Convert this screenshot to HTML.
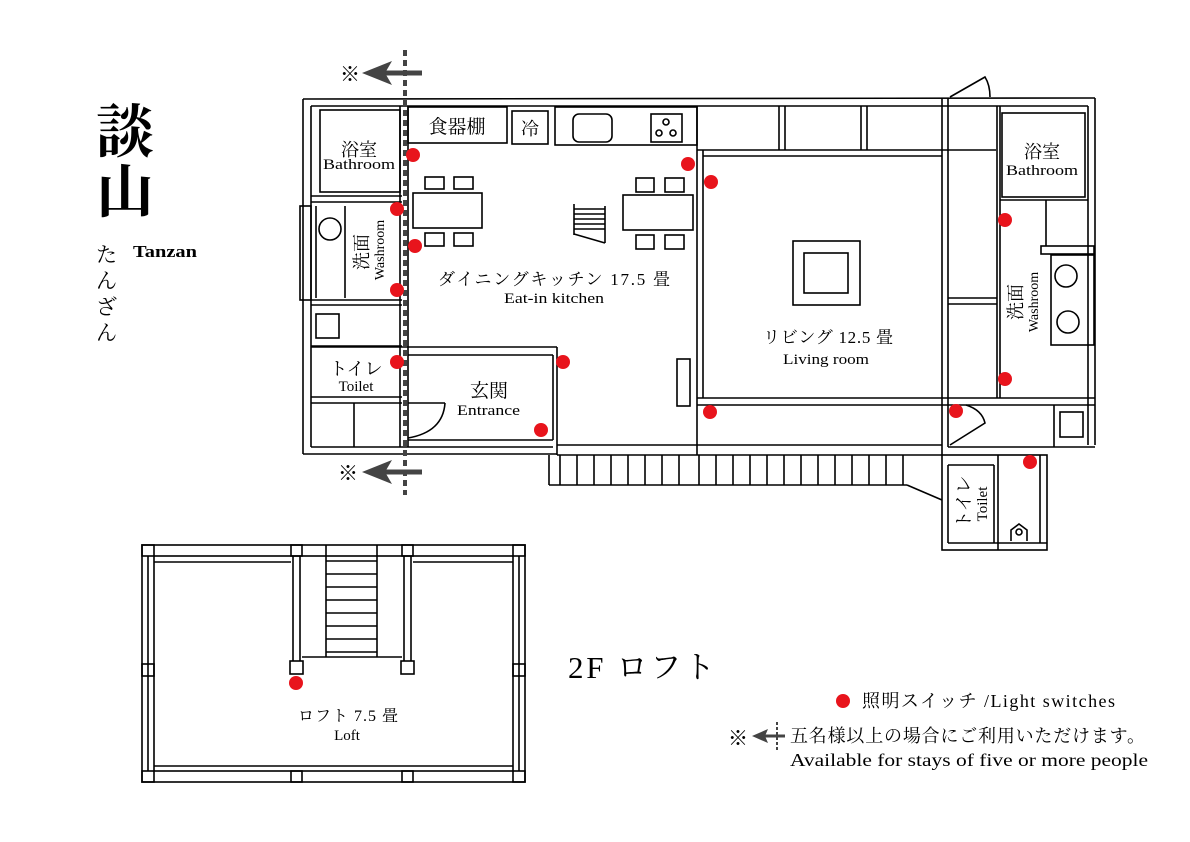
<!DOCTYPE html>
<html><head><meta charset="utf-8"><style>
html,body{margin:0;padding:0;background:#fff;}
svg{display:block}
text{font-family:"Liberation Serif","Noto Serif CJK JP",serif;fill:#000}
</style></head><body>
<svg width="1190" height="842" viewBox="0 0 1190 842" xmlns="http://www.w3.org/2000/svg">
<g fill="none" stroke="#000" stroke-width="1.6">
<line x1="303" y1="99" x2="1095" y2="98"/>
<line x1="311" y1="106" x2="1088" y2="106"/>
<line x1="303" y1="99" x2="303" y2="454"/>
<line x1="311" y1="106" x2="311" y2="447"/>
<line x1="303" y1="454" x2="557" y2="454"/>
<line x1="311" y1="447" x2="553" y2="447"/>
<line x1="1095" y1="98" x2="1095" y2="445"/>
<line x1="1088" y1="106" x2="1088" y2="445"/>
<rect x="320" y="110" width="80" height="82"/>
<line x1="311" y1="196" x2="402" y2="196"/>
<line x1="311" y1="202" x2="402" y2="202"/>
<rect x="300" y="206" width="11" height="94"/>
<line x1="316" y1="206" x2="316" y2="298"/>
<line x1="345" y1="206" x2="345" y2="298"/>
<circle cx="330" cy="229" r="11"/>
<line x1="311" y1="300" x2="402" y2="300"/>
<line x1="311" y1="305" x2="402" y2="305"/>
<rect x="316" y="314" width="23" height="24"/>
<line x1="311" y1="346" x2="402" y2="346"/>
<line x1="311" y1="397" x2="402" y2="397"/>
<line x1="311" y1="403" x2="402" y2="403"/>
<line x1="354" y1="403" x2="354" y2="447"/>
<line x1="400" y1="106" x2="400" y2="447"/>
<line x1="408" y1="106" x2="408" y2="447"/>
<rect x="408" y="107" width="99" height="36"/>
<rect x="512" y="111" width="36" height="33"/>
<rect x="555" y="107" width="142" height="38"/>
<rect x="573" y="114" width="39" height="28" rx="6"/>
<rect x="651" y="114" width="31" height="28"/>
<circle cx="666" cy="122" r="3"/><circle cx="659" cy="133" r="3"/><circle cx="673" cy="133" r="3"/>
<rect x="413" y="193" width="69" height="35"/>
<rect x="425" y="177" width="19" height="12"/><rect x="454" y="177" width="19" height="12"/>
<rect x="425" y="233" width="19" height="13"/><rect x="454" y="233" width="19" height="13"/>
<rect x="623" y="195" width="70" height="35"/>
<rect x="636" y="178" width="18" height="14"/><rect x="665" y="178" width="19" height="14"/>
<rect x="636" y="235" width="18" height="14"/><rect x="665" y="235" width="19" height="14"/>
<line x1="574" y1="204" x2="574" y2="235"/><line x1="605" y1="206" x2="605" y2="243"/>
<line x1="574" y1="209" x2="605" y2="209"/><line x1="574" y1="214" x2="605" y2="214"/><line x1="574" y1="219" x2="605" y2="219"/><line x1="574" y1="224" x2="605" y2="224"/><line x1="574" y1="229" x2="605" y2="229"/>
<line x1="574" y1="234" x2="605" y2="243"/>
<rect x="677" y="359" width="13" height="47"/>
<line x1="311" y1="347" x2="557" y2="347"/>
<line x1="408" y1="355" x2="553" y2="355"/>
<line x1="553" y1="355" x2="553" y2="440"/>
<line x1="557" y1="347" x2="557" y2="455"/>
<line x1="408" y1="440" x2="553" y2="440"/>
<path d="M408 438 Q443 432 445 403" />
<line x1="408" y1="403" x2="445" y2="403"/>
<line x1="697" y1="106" x2="697" y2="455"/>
<line x1="703" y1="150" x2="703" y2="398"/>
<line x1="557" y1="445" x2="942" y2="445"/>
<line x1="557" y1="455" x2="942" y2="455"/>
<line x1="697" y1="150" x2="996" y2="150"/>
<line x1="703" y1="156" x2="942" y2="156"/>
<line x1="779" y1="106" x2="779" y2="150"/><line x1="785" y1="106" x2="785" y2="150"/>
<line x1="861" y1="106" x2="861" y2="150"/><line x1="867" y1="106" x2="867" y2="150"/>
<line x1="942" y1="98" x2="942" y2="455"/>
<line x1="948" y1="98" x2="948" y2="447"/>
<line x1="697" y1="398" x2="1095" y2="398"/>
<line x1="697" y1="405" x2="1095" y2="405"/>
<rect x="793" y="241" width="67" height="64"/>
<rect x="804" y="253" width="44" height="40"/>
<line x1="948" y1="298" x2="997" y2="298"/><line x1="948" y1="304" x2="997" y2="304"/>
<line x1="997" y1="106" x2="997" y2="398"/>
<line x1="1000" y1="106" x2="1000" y2="398"/>
<rect x="1002" y="113" width="83" height="84"/>
<line x1="1000" y1="200" x2="1088" y2="200"/>
<line x1="1046" y1="200" x2="1046" y2="246"/>
<rect x="1041" y="246" width="53" height="8"/>
<rect x="1051" y="255" width="43" height="90"/>
<circle cx="1066" cy="276" r="11"/><circle cx="1068" cy="322" r="11"/>
<rect x="1060" y="412" width="23" height="25"/>
<line x1="1054" y1="405" x2="1054" y2="447"/>
<line x1="948" y1="447" x2="1095" y2="447"/>
<path d="M950 445 L985 423 Q982 410 966 405"/>
<path d="M950 97 L985 77 Q990 85 990 97"/>
<line x1="549" y1="455" x2="549" y2="485"/>
<line x1="549" y1="485" x2="907" y2="485"/>
<line x1="907" y1="485" x2="942" y2="500"/>
<g>
<line x1="560" y1="455" x2="560" y2="485"/><line x1="577" y1="455" x2="577" y2="485"/><line x1="594" y1="455" x2="594" y2="485"/><line x1="611" y1="455" x2="611" y2="485"/><line x1="628" y1="455" x2="628" y2="485"/><line x1="645" y1="455" x2="645" y2="485"/><line x1="662" y1="455" x2="662" y2="485"/><line x1="679" y1="455" x2="679" y2="485"/><line x1="699" y1="455" x2="699" y2="485"/><line x1="716" y1="455" x2="716" y2="485"/><line x1="733" y1="455" x2="733" y2="485"/><line x1="750" y1="455" x2="750" y2="485"/><line x1="767" y1="455" x2="767" y2="485"/><line x1="784" y1="455" x2="784" y2="485"/><line x1="801" y1="455" x2="801" y2="485"/><line x1="818" y1="455" x2="818" y2="485"/><line x1="835" y1="455" x2="835" y2="485"/><line x1="852" y1="455" x2="852" y2="485"/><line x1="869" y1="455" x2="869" y2="485"/><line x1="886" y1="455" x2="886" y2="485"/><line x1="903" y1="455" x2="903" y2="485"/>
</g>
<rect x="942" y="455" width="105" height="95"/>
<line x1="948" y1="465" x2="994" y2="465"/>
<line x1="948" y1="465" x2="948" y2="543"/>
<line x1="948" y1="543" x2="1047" y2="543"/>
<line x1="994" y1="465" x2="994" y2="543"/><line x1="998" y1="455" x2="998" y2="550"/>
<line x1="1040" y1="455" x2="1040" y2="543"/>
<path d="M1011 541 L1011 530 L1019 524 L1027 530 L1027 541"/>
<circle cx="1019" cy="532" r="3"/>
<rect x="142" y="545" width="383" height="237"/>
<rect x="154" y="556" width="359" height="215"/>
<line x1="154" y1="562" x2="291" y2="562"/>
<line x1="413" y1="562" x2="513" y2="562"/>
<line x1="154" y1="766" x2="513" y2="766"/>
<line x1="148" y1="556" x2="148" y2="771"/><line x1="519" y1="556" x2="519" y2="771"/>
<rect x="142" y="545" width="12" height="11"/><rect x="513" y="545" width="12" height="11"/>
<rect x="142" y="771" width="12" height="11"/><rect x="513" y="771" width="12" height="11"/>
<rect x="142" y="664" width="12" height="12"/><rect x="513" y="664" width="12" height="12"/>
<rect x="291" y="545" width="11" height="11"/><rect x="402" y="545" width="11" height="11"/>
<rect x="291" y="771" width="11" height="11"/><rect x="402" y="771" width="11" height="11"/>
<line x1="293" y1="556" x2="293" y2="661"/><line x1="300" y1="556" x2="300" y2="661"/>
<line x1="404" y1="556" x2="404" y2="661"/><line x1="411" y1="556" x2="411" y2="661"/>
<rect x="290" y="661" width="13" height="13"/><rect x="401" y="661" width="13" height="13"/>
<line x1="302" y1="657" x2="402" y2="657"/>
<line x1="326" y1="545" x2="326" y2="657"/><line x1="377" y1="545" x2="377" y2="657"/>
<line x1="326" y1="561" x2="377" y2="561"/><line x1="326" y1="574" x2="377" y2="574"/><line x1="326" y1="587" x2="377" y2="587"/><line x1="326" y1="600" x2="377" y2="600"/><line x1="326" y1="613" x2="377" y2="613"/><line x1="326" y1="626" x2="377" y2="626"/><line x1="326" y1="639" x2="377" y2="639"/><line x1="326" y1="652" x2="377" y2="652"/>
</g>
<line x1="405" y1="50" x2="405" y2="495" stroke="#444" stroke-width="4" stroke-dasharray="6,4"/>
<g fill="#444" stroke="#444">
<line x1="375" y1="73" x2="422" y2="73" stroke-width="5"/>
<polygon points="362,73 392,61 385,73 392,85" stroke="none"/>
<line x1="375" y1="472" x2="422" y2="472" stroke-width="5"/>
<polygon points="362,472 392,460 385,472 392,484" stroke="none"/>
<line x1="765" y1="736" x2="785" y2="736" stroke-width="3"/>
<polygon points="752,736 768,729 765,736 768,743" stroke="none"/>
<line x1="777" y1="722" x2="777" y2="750" stroke-width="2" stroke-dasharray="3,2"/>
</g>
<text x="340" y="81" font-size="20">※</text>
<text x="338" y="480" font-size="20">※</text>
<text x="728" y="745" font-size="20">※</text>
<g fill="#e8141c">
<circle cx="413" cy="155" r="7"/><circle cx="688" cy="164" r="7"/><circle cx="711" cy="182" r="7"/>
<circle cx="397" cy="209" r="7"/><circle cx="415" cy="246" r="7"/><circle cx="397" cy="290" r="7"/>
<circle cx="397" cy="362" r="7"/><circle cx="563" cy="362" r="7"/><circle cx="541" cy="430" r="7"/>
<circle cx="710" cy="412" r="7"/><circle cx="956" cy="411" r="7"/><circle cx="1005" cy="220" r="7"/>
<circle cx="1005" cy="379" r="7"/><circle cx="1030" cy="462" r="7"/><circle cx="296" cy="683" r="7"/>
<circle cx="843" cy="701" r="7"/>
</g>
<text x="359" y="156" font-size="18" text-anchor="middle">浴室</text>
<text x="323" y="169" font-size="15" textLength="72" lengthAdjust="spacingAndGlyphs">Bathroom</text>
<text transform="translate(368,252) rotate(-90)" font-size="18" text-anchor="middle">洗面</text>
<text transform="translate(384,250) rotate(-90)" font-size="14" text-anchor="middle">Washroom</text>
<text x="356" y="375" font-size="18" text-anchor="middle">トイレ</text>
<text x="356" y="391" font-size="15" text-anchor="middle">Toilet</text>
<text x="489" y="397" font-size="19" text-anchor="middle">玄関</text>
<text x="457" y="415" font-size="15" textLength="63" lengthAdjust="spacingAndGlyphs">Entrance</text>
<text x="457" y="133" font-size="19" text-anchor="middle">食器棚</text>
<text x="530" y="135" font-size="18" text-anchor="middle">冷</text>
<text x="438" y="285" font-size="17" textLength="232" lengthAdjust="spacing">ダイニングキッチン 17.5 畳</text>
<text x="504" y="303" font-size="15" textLength="100" lengthAdjust="spacingAndGlyphs">Eat-in kitchen</text>
<text x="763" y="343" font-size="17" textLength="130" lengthAdjust="spacing">リビング 12.5 畳</text>
<text x="783" y="364" font-size="15" textLength="86" lengthAdjust="spacingAndGlyphs">Living room</text>
<text x="1042" y="158" font-size="18" text-anchor="middle">浴室</text>
<text x="1006" y="175" font-size="15" textLength="72" lengthAdjust="spacingAndGlyphs">Bathroom</text>
<text transform="translate(1022,302) rotate(-90)" font-size="18" text-anchor="middle">洗面</text>
<text transform="translate(1038,302) rotate(-90)" font-size="14" text-anchor="middle">Washroom</text>
<text transform="translate(970,502) rotate(-90)" font-size="18" text-anchor="middle">トイレ</text>
<text transform="translate(987,504) rotate(-90)" font-size="15" text-anchor="middle">Toilet</text>
<text x="298" y="721" font-size="16" textLength="100" lengthAdjust="spacing">ロフト 7.5 畳</text>
<text x="347" y="740" font-size="15" text-anchor="middle">Loft</text>
<text x="96" y="152" font-size="58" font-weight="bold">談</text>
<text x="96" y="212" font-size="58" font-weight="bold">山</text>
<text x="133" y="257" font-size="17" textLength="64" lengthAdjust="spacingAndGlyphs" font-weight="bold">Tanzan</text>
<text x="96" y="262" font-size="21">た</text>
<text x="96" y="288" font-size="21">ん</text>
<text x="96" y="314" font-size="21">ざ</text>
<text x="96" y="340" font-size="21">ん</text>
<text x="568" y="678" font-size="31" textLength="147" lengthAdjust="spacing">2F ロフト</text>
<text x="862" y="707" font-size="18" textLength="253" lengthAdjust="spacing">照明スイッチ /Light switches</text>
<text x="790" y="742" font-size="18" textLength="355" lengthAdjust="spacing">五名様以上の場合にご利用いただけます。</text>
<text x="790" y="766" font-size="18" textLength="358" lengthAdjust="spacingAndGlyphs">Available for stays of five or more people</text>
</svg>
</body></html>
